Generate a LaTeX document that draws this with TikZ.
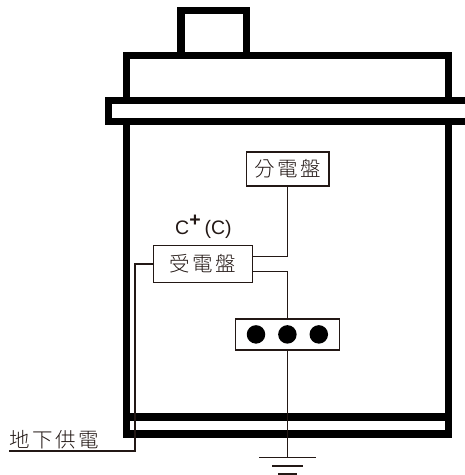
\documentclass[tikz,border=0pt]{standalone}
\usepackage{fontspec}
\setmainfont{Liberation Sans}
\newfontfamily\cjk[LetterSpace=12]{Noto Sans CJK TC Light}
\definecolor{wire}{HTML}{231815}
\tikzset{
  wall/.style={line width=7.2bp,black,line cap=butt,line join=miter},
  wirepath/.style={line width=1.5bp,wire},
  panel/.style={draw=wire,line width=1.5bp,fill=white,inner sep=0pt,font=\cjk\fontsize{20.5bp}{22bp}\selectfont,text=wire},
  lamp/.style={circle,fill=black,minimum size=18.5bp,inner sep=0pt},
  label/.style={inner sep=0pt,text=wire}
}
\begin{document}
\begin{tikzpicture}[x=1bp,y=-1bp]
\useasboundingbox (0,0) rectangle (465,475);
% building
\draw[wall] (181,55.5) -- (181,10.2) -- (246.5,10.2) -- (246.5,55.5);
\draw[wall] (126.5,100.5) -- (126.5,55.5) -- (448.5,55.5) -- (448.5,100.5);
\draw[wall] (470,100.5) -- (108.6,100.5) -- (108.6,121.5) -- (470,121.5);
\draw[wall] (126.5,121.5) -- (126.5,434) -- (448.5,434) -- (448.5,121.5);
\draw[wall] (126.5,417) -- (448.5,417);
% panels
\node[panel,minimum width=82.5bp,minimum height=34bp] (sub) at (287.5,169) {分電盤};
\node[panel,minimum width=99bp,minimum height=36.6bp] (main) at (203.2,264) {受電盤};
\node[panel,minimum width=104bp,minimum height=31.3bp] (bar) at (287.5,334.4) {};
\node[lamp] (l1) at (256,334.4) {};
\node[lamp] (l2) at (287.4,334.4) {};
\node[lamp] (l3) at (318.8,334.4) {};
\node[label,anchor=west] (rating) at (175,227) {\fontsize{19.5bp}{22bp}\selectfont C$^{\textbf{+}}$\hspace{3.5bp}(C)};
\node[label,anchor=south west,font=\cjk\fontsize{20.5bp}{22bp}\selectfont] (feed) at (9,449.3) {地下供電};
% coordinates
\coordinate (a) at (287.4,256.7);
\coordinate (b) at (287.4,271.3);
\coordinate (c) at (135,264);
\coordinate (d) at (135,450.8);
\coordinate (e) at (9,450.8);
\coordinate (g1) at (259,457.7);
\coordinate (g2) at (315.7,457.7);
\coordinate (g) at (287.4,457.7);
\coordinate (h1) at (272,466);
\coordinate (h2) at (302.7,466);
\coordinate (i1) at (278,474);
\coordinate (i2) at (296.7,474);
% wires
\draw[wirepath] (sub.south -| a) -- (a) -- (a -| main.east);
\draw[wirepath] (b -| main.east) -- (b) -- (b |- bar.north);
\draw[wirepath] (bar.south -| g) -- (g);
\draw[wirepath] (main.west) -- (c) -- (d) -- (e);
\draw[wirepath] (g1) -- (g2);
\draw[wirepath] (h1) -- (h2);
\draw[wirepath] (i1) -- (i2);
\end{tikzpicture}
\end{document}
